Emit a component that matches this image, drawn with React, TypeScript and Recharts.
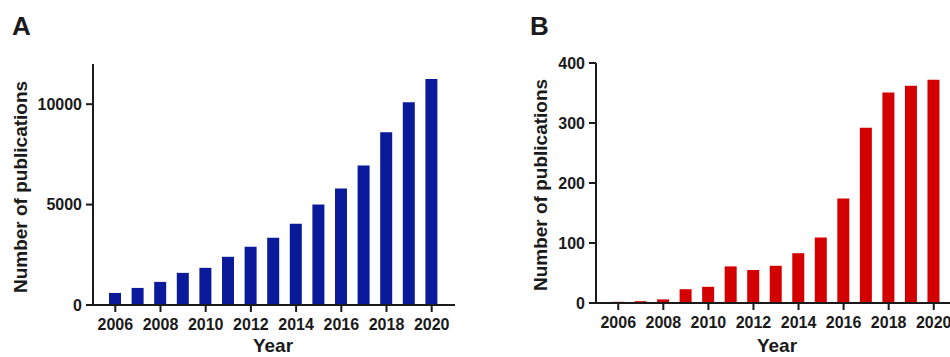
import { BarChart, Bar, XAxis, YAxis, Label } from 'recharts';

const years = ['2006', '2007', '2008', '2009', '2010', '2011', '2012', '2013', '2014', '2015', '2016', '2017', '2018', '2019', '2020'];
const totalPubs = [600, 850, 1150, 1600, 1850, 2400, 2900, 3350, 4050, 5000, 5800, 6950, 8600, 10100, 11250];
const subsetPubs = [2, 3, 6, 23, 27, 61, 55, 62, 83, 109, 174, 292, 351, 362, 372];
const ticksA = [0, 5000, 10000];
const ticksB = [0, 100, 200, 300, 400];

const FONT = '"Liberation Sans", Arial, sans-serif';
const INK = '#1a1a1a';

const tickStyle = { fontFamily: FONT, fontWeight: 700, fontSize: 16, fill: INK };

function Panel({ letter, values, color, domain, ticks, yWidth, margin, left, width, titleX, titleY, yearX }: {
  letter: string; values: number[]; color: string; domain: [number, number]; ticks: number[];
  yWidth: number; margin: { top: number; right: number; bottom: number; left: number }; left: number; width: number;
  titleX: number; titleY: number; yearX: number;
}) {
  const data = years.map((y, i) => ({ year: y, value: values[i] }));
  return (
    <div style={{ position: 'absolute', left, top: 0 }}>
      <BarChart width={width} height={357} data={data} margin={margin} barSize={12}>
        <XAxis
          dataKey="year"
          interval={1}
          tickSize={7}
          tickMargin={7}
          tick={tickStyle}
          stroke={INK}
          strokeWidth={2}
          padding={{ left: 11, right: 12 }}
          height={30}
        >
          <Label
            content={() => (
              <text x={yearX} y={352} textAnchor="middle" fontFamily={FONT} fontWeight={700} fontSize={19} fill={INK}>Year</text>
            )}
          />
        </XAxis>
        <YAxis
          domain={domain}
          ticks={ticks}
          interval={0}
          tickSize={7}
          tickMargin={4}
          tick={tickStyle}
          stroke={INK}
          strokeWidth={2}
          width={yWidth}
        >
          <Label
            content={() => (
              <text x={titleX} y={titleY} transform={`rotate(-90 ${titleX} ${titleY})`} textAnchor="middle" fontFamily={FONT} fontWeight={700} fontSize={19} fill={INK}>
                Number of publications
              </text>
            )}
          />
        </YAxis>
        <Bar dataKey="value" fill={color} isAnimationActive={false} />
      </BarChart>
      <div style={{ position: 'absolute', left: letter === 'A' ? 12 : 30, top: 13, fontFamily: FONT, fontWeight: 700, fontSize: 26, color: INK, lineHeight: '26px' }}>{letter}</div>
      <div style={{ position: 'absolute', left: margin.left + yWidth - 7, top: 357 - margin.bottom - 30 - 1, width: 7, height: 2, background: INK }} />
    </div>
  );
}

export default function App() {
  return (
    <div style={{ position: 'fixed', left: 0, top: 0, width: 950, height: 357, overflow: 'hidden', background: '#fff' }}>
      <Panel letter="A" values={totalPubs} color="#0a1a9a" domain={[0, 12000]} ticks={ticksA} yWidth={93}
        margin={{ top: 64, right: 15, bottom: 22, left: 0 }} left={0} width={470}
        titleX={27} titleY={187} yearX={273} />
      <Panel letter="B" values={subsetPubs} color="#d40000" domain={[0, 400]} ticks={ticksB} yWidth={96}
        margin={{ top: 63, right: 13, bottom: 24, left: 0 }} left={500} width={470}
        titleX={47} titleY={185} yearX={277} />
    </div>
  );
}
